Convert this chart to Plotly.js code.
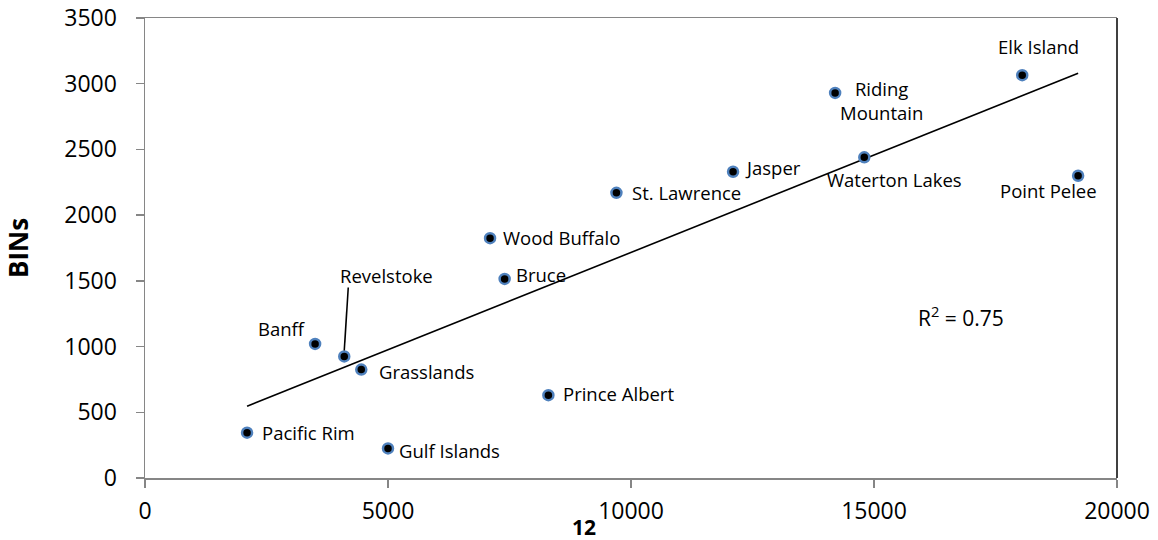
<!DOCTYPE html>
<html>
<head>
<meta charset="utf-8">
<script src="https://cdn.plot.ly/plotly-3.0.1.min.js"></script>
<style>html,body{margin:0;padding:0;background:#fff;}#chart{width:1158px;height:540px;}</style>
</head>
<body>
<div id="chart"></div>
<script>
// Data
const parks = ["Pacific Rim","Gulf Islands","Banff","Revelstoke","Grasslands","Prince Albert","Bruce","Wood Buffalo","St. Lawrence","Jasper","Riding<br>Mountain","Waterton Lakes","Elk Island","Point Pelee"];
const xValues = [2100, 5000, 3500, 4100, 4450, 8300, 7400, 7100, 9700, 12100, 14200, 14800, 18050, 19200];
const binValues = [345, 225, 1020, 925, 825, 630, 1515, 1825, 2170, 2330, 2930, 2440, 3065, 2300];
const xTicks = [0, 5000, 10000, 15000, 20000];
const yTicks = [0, 500, 1000, 1500, 2000, 2500, 3000, 3500];
const r2Text = "R<sup>2</sup> = 0.75";
const xTitle = "12";
const yTitle = "BINs";

// Label placement (pixel offsets from each point)
const labelStyle = [
  {xanchor:"left", xshift:13, yshift:0},
  {xanchor:"left", xshift:9, yshift:-2},
  {xanchor:"right", xshift:-7, yshift:15},
  {xanchor:"left", xshift:-6, yshift:81},
  {xanchor:"left", xshift:16, yshift:-2},
  {xanchor:"left", xshift:13, yshift:2},
  {xanchor:"left", xshift:9, yshift:4},
  {xanchor:"left", xshift:11, yshift:1},
  {xanchor:"left", xshift:14, yshift:0},
  {xanchor:"left", xshift:10, yshift:4},
  {xanchor:"center", xshift:46, yshift:-8},
  {xanchor:"center", xshift:30, yshift:-22},
  {xanchor:"center", xshift:16, yshift:29},
  {xanchor:"center", xshift:-30, yshift:-15}
];

// Linear least-squares trendline from the data
const n = xValues.length;
const mx = xValues.reduce((a,b)=>a+b,0)/n;
const my = binValues.reduce((a,b)=>a+b,0)/n;
let sxy = 0, sxx = 0;
for (let i=0;i<n;i++){ sxy += (xValues[i]-mx)*(binValues[i]-my); sxx += (xValues[i]-mx)**2; }
const slope = sxy/sxx, intercept = my - slope*mx;
const xMin = Math.min(...xValues), xMax = Math.max(...xValues);
const trendX = [xMin, xMax];
const trendY = trendX.map(v => intercept + slope*v);

const FONT = "Open Sans, Noto Sans, sans-serif";

const traces = [
  {x: trendX, y: trendY, mode: "lines", type: "scatter", line: {color: "#000", width: 1.6}, hoverinfo: "skip", showlegend: false},
  {x: xValues, y: binValues, mode: "markers", type: "scatter",
   marker: {color: "#000", size: 10, line: {color: "#4F81BD", width: 2.5}}, showlegend: false}
];

const annotations = parks.map((p,i) => ({
  x: xValues[i], y: binValues[i], xref: "x", yref: "y", text: p, showarrow: false,
  xanchor: labelStyle[i].xanchor, yanchor: "middle",
  xshift: labelStyle[i].xshift, yshift: labelStyle[i].yshift,
  font: {family: FONT, size: 18.5, color: "#000"}, align: "center"
}));
annotations.push({x: 0.8395, y: 0.352, xref: "paper", yref: "paper", text: r2Text, showarrow: false,
  xanchor: "center", yanchor: "middle", font: {family: FONT, size: 21, color: "#000"}});
annotations.push({x: 0.4516, y: -0.1065, xref: "paper", yref: "paper", text: "<b>" + xTitle + "</b>", showarrow: false,
  xanchor: "center", yanchor: "middle", font: {family: FONT, size: 21, color: "#000"}});

// Leader line for Revelstoke (pixel offsets anchored at the data point)
const rev = parks.indexOf("Revelstoke");

const layout = {
  width: 1158, height: 540,
  margin: {l: 145, r: 41, t: 18, b: 62, pad: 0},
  paper_bgcolor: "#fff", plot_bgcolor: "#fff",
  font: {family: FONT, color: "#000"},
  showlegend: false,
  xaxis: {range: [0, 20000], tickvals: xTicks, ticktext: xTicks.map(String), showgrid: false, zeroline: false,
    showline: true, linecolor: "#868686", linewidth: 1.5, mirror: true,
    ticks: "outside", ticklen: 8, tickwidth: 1.5, tickcolor: "#868686", ticklabelstandoff: 4,
    tickfont: {family: FONT, size: 23, color: "#000"}},
  yaxis: {range: [0, 3500], tickvals: yTicks, ticktext: yTicks.map(String), showgrid: false, zeroline: false,
    showline: true, linecolor: "#868686", linewidth: 1.5,
    ticks: "outside", ticklen: 8, tickwidth: 1.5, tickcolor: "#868686", ticklabelstandoff: 14,
    tickfont: {family: FONT, size: 23, color: "#000"},
    title: {text: "<b>" + yTitle + "</b>", standoff: 30, font: {family: FONT, size: 26, color: "#000"}}},
  shapes: [
    {type: "line", xref: "paper", yref: "paper", x0: 1, x1: 1, y0: 0, y1: 1, line: {color: "#000", width: 1.5}},
    {type: "line", xref: "x", yref: "y", xsizemode: "pixel", ysizemode: "pixel",
     xanchor: xValues[rev], yanchor: binValues[rev], x0: 4, x1: 0, y0: 69, y1: 6,
     line: {color: "#000", width: 1.6}}
  ],
  annotations: annotations
};

Plotly.newPlot("chart", traces, layout, {displayModeBar: false, staticPlot: true});
</script>
</body>
</html>
